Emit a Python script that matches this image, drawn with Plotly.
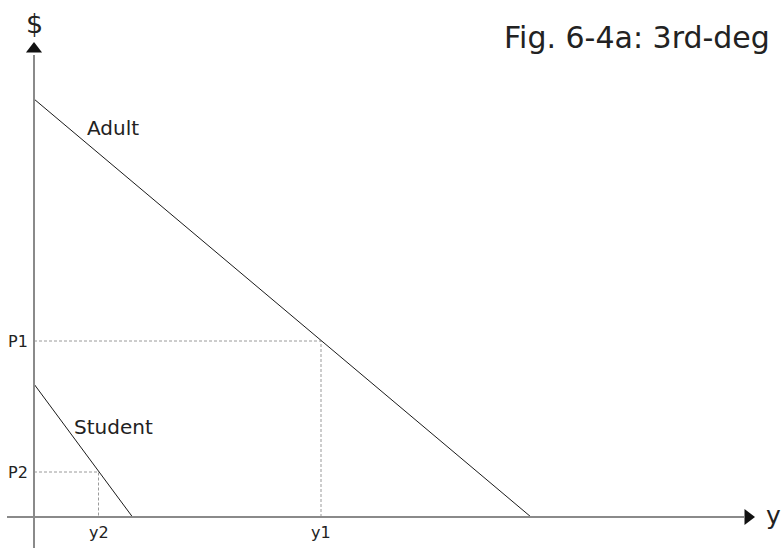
import plotly.graph_objects as go

# demand curves (quantity, price)
adult_qty = [0, 49.7]
adult_price = [41.8, 0]
student_qty = [0, 9.85]
student_price = [13.3, 0]

# chosen points on each curve
y1, P1 = 28.7, 17.6
y2, P2 = 6.45, 4.5

tick_names = ["P1", "P2", "y1", "y2"]
title_text = "Fig. 6-4a: 3rd-deg"

FONT = "DejaVu Sans, Liberation Sans, sans-serif"
AXIS_GREY = "#8a8a8a"

fig = go.Figure()

# dashed guides
for q, p in [(y1, P1), (y2, P2)]:
    fig.add_trace(go.Scatter(x=[0, q, q], y=[p, p, 0], mode="lines",
                             line=dict(color="#9a9a9a", width=1, dash="3px,2px"),
                             hoverinfo="skip", showlegend=False))

fig.add_trace(go.Scatter(x=adult_qty, y=adult_price, mode="lines",
                         line=dict(color="#1a1a1a", width=1), name="Adult", showlegend=False))
fig.add_trace(go.Scatter(x=student_qty, y=student_price, mode="lines",
                         line=dict(color="#1a1a1a", width=1), name="Student", showlegend=False))

# axes drawn by hand with arrow heads
fig.add_shape(type="line", x0=-2.7, y0=0, x1=71.0, y1=0, line=dict(color=AXIS_GREY, width=2))
fig.add_shape(type="line", x0=0, y0=-3.2, x1=0, y1=46.2, line=dict(color=AXIS_GREY, width=2))
fig.add_trace(go.Scatter(x=[71.4], y=[0], mode="markers",
                         marker=dict(symbol="triangle-right", size=14, color="#111"),
                         hoverinfo="skip", showlegend=False))
fig.add_trace(go.Scatter(x=[0], y=[46.8], mode="markers",
                         marker=dict(symbol="triangle-up", size=14, color="#111"),
                         hoverinfo="skip", showlegend=False))

anns = [
    dict(x=-0.4, y=P1, text=tick_names[0], xanchor="right", font_size=16),
    dict(x=-0.4, y=P2, text=tick_names[1], xanchor="right", font_size=16),
    dict(x=y1, y=-1.5, text=tick_names[2], font_size=16),
    dict(x=y2, y=-1.5, text=tick_names[3], font_size=16),
    dict(x=5.1, y=38.9, text="Adult", xanchor="left", font_size=20),
    dict(x=3.8, y=9.0, text="Student", xanchor="left", font_size=20),
    dict(x=0, y=49.4, text="$", font_size=27),
    dict(x=73.0, y=0.2, text="y", xanchor="left", font_size=25),
]
for a in anns:
    fig.add_annotation(showarrow=False, font=dict(family=FONT, color="#222", size=a.pop("font_size")), **a)

fig.add_annotation(x=502 / 783, y=1 - 38 / 548, xref="paper", yref="paper", text=title_text,
                   showarrow=False, xanchor="left", yanchor="middle",
                   font=dict(family=FONT, size=30, color="#222"))

fig.update_xaxes(range=[-3.4, 74.9], visible=False, fixedrange=True)
fig.update_yaxes(range=[-3.1, 51.7], visible=False, fixedrange=True)
fig.update_layout(width=783, height=548, margin=dict(l=0, r=0, t=0, b=0),
                  plot_bgcolor="white", paper_bgcolor="white", font=dict(family=FONT))

# page has a default 8px body margin; drop it so the figure fills the window
fig.write_html("out.html", config={"displayModeBar": False},
               post_script="document.body.style.margin='0';")
